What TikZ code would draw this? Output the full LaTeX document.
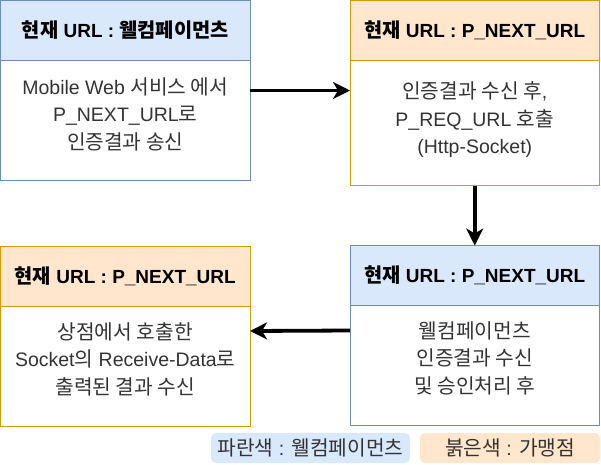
\documentclass[tikz,border=0pt]{standalone}
\usepackage{fontspec}
\setmainfont{Liberation Sans}
\newfontfamily\kr[Scale=1.04]{Noto Sans CJK KR}
\usetikzlibrary{positioning, arrows.meta}
\definecolor{bluChiaro}{HTML}{DAE8FC}
\definecolor{bluBordo}{HTML}{6C8EBF}
\definecolor{aranChiaro}{HTML}{FFE6CC}
\definecolor{aranBordo}{HTML}{D79B00}
\definecolor{grigioTesto}{HTML}{333333}

\begin{document}
\begin{tikzpicture}[x=1pt, y=-1pt,
    every node/.style={inner sep=0pt, outer sep=0pt},
    testa/.style={draw, line width=1pt, minimum width=249.5pt, minimum height=60pt, anchor=north west, font=\fontsize{19}{22}\selectfont\bfseries},
    corpo/.style={draw, line width=1pt, minimum width=249.5pt, anchor=north},
    scritta/.style={align=center, text=grigioTesto, font=\fontsize{19.5}{27.5}\selectfont},
    legenda/.style={rounded corners=5pt, minimum height=30pt, text=grigioTesto, font=\fontsize{19.5}{22}\selectfont},
    freccia/.style={line width=3.8pt, -{Stealth[length=17pt, width=17pt, inset=5pt]}}]
    \useasboundingbox (0,0) rectangle (601,464);
    % Riquadri in alto
    \node[testa, fill=bluChiaro, draw=bluBordo] (h1) at (0.5,0.5) {{\kr 현재} URL : {\kr 웰컴페이먼츠}};
    \node[corpo, draw=bluBordo, minimum height=120pt] (b1) at (h1.south) {};
    \node[scritta] (t1) at ([yshift=6.5]b1.center) {Mobile Web {\kr 서비스 에서}\\P\_NEXT\_URL{\kr 로}\\{\kr 인증결과 송신}};
    \node[testa, fill=aranChiaro, draw=aranBordo] (h2) at (350,0.5) {{\kr 현재} URL : P\_NEXT\_URL};
    \node[corpo, draw=aranBordo, minimum height=125pt] (b2) at (h2.south) {};
    \node[scritta] (t2) at ([yshift=3]b2.center) {{\kr 인증결과 수신 후},\\P\_REQ\_URL {\kr 호출}\\(Http-Socket)};
    % Riquadri in basso
    \node[testa, fill=bluChiaro, draw=bluBordo] (h3) at (350,245.5) {{\kr 현재} URL : P\_NEXT\_URL};
    \node[corpo, draw=bluBordo, minimum height=120pt] (b3) at (h3.south) {};
    \node[scritta] (t3) at ([yshift=7.5]b3.center) {{\kr 웰컴페이먼츠}\\{\kr 인증결과 수신}\\{\kr 및 승인처리 후}};
    \node[testa, fill=aranChiaro, draw=aranBordo] (h4) at (0.5,246) {{\kr 현재} URL : P\_NEXT\_URL};
    \node[corpo, draw=aranBordo, minimum height=120pt] (b4) at (h4.south) {};
    \node[scritta] (t4) at ([yshift=7]b4.center) {{\kr 상점에서 호출한}\\Socket{\kr 의} Receive-Data{\kr 로}\\{\kr 출력된 결과 수신}};
    % Frecce
    \draw[freccia] ([yshift=-30]b1.north east) -- ([yshift=-30]b2.north west);
    \draw[freccia] (b2.south) -- (h3.north);
    \draw[freccia] ([yshift=-25]b3.north west) -- ([yshift=-25]b4.north east);
    % Legenda
    \node[legenda, fill=bluChiaro, minimum width=199pt] (l1) at (310.5,448) {{\kr 파란색} : {\kr 웰컴페이먼츠}};
    \node[legenda, fill=aranChiaro, minimum width=180pt, right=10pt of l1] (l2) {{\kr 붉은색} : {\kr 가맹점}};
\end{tikzpicture}
\end{document}
